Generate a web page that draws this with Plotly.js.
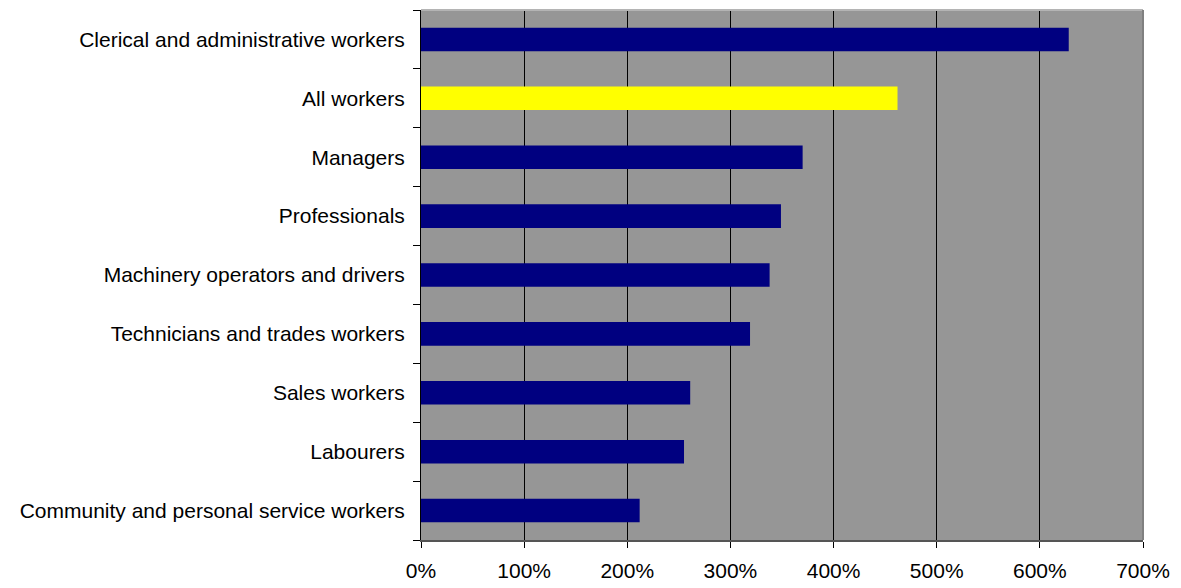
<!DOCTYPE html>
<html>
<head>
<meta charset="utf-8">
<script src="https://cdn.plot.ly/plotly-3.0.1.min.js"></script>
<style>html,body{margin:0;padding:0;background:#fff;}#chart{width:1181px;height:588px;}</style>
</head>
<body>
<div id="chart"></div>
<script>
const categories = [
  "Community and personal service workers",
  "Labourers",
  "Sales workers",
  "Technicians and trades workers",
  "Machinery operators and drivers",
  "Professionals",
  "Managers",
  "All workers",
  "Clerical and administrative workers"
];
const values = [2.12, 2.55, 2.61, 3.19, 3.38, 3.49, 3.70, 4.62, 6.28];
const barColors = categories.map(c => c === "All workers" ? "#FFFF00" : "#000080");
const tickVals = [0, 1, 2, 3, 4, 5, 6, 7];
const tickText = ["0%", "100%", "200%", "300%", "400%", "500%", "600%", "700%"];

const trace = {
  type: "bar",
  orientation: "h",
  y: categories,
  x: values,
  marker: {color: barColors, line: {width: 0}},
  hoverinfo: "none"
};

const layout = {
  width: 1181,
  height: 588,
  margin: {l: 421, r: 38, t: 10, b: 48, pad: 0},
  paper_bgcolor: "#ffffff",
  plot_bgcolor: "#969696",
  bargap: 0.6,
  showlegend: false,
  font: {family: "Liberation Sans, Arial, sans-serif", size: 21, color: "#000"},
  xaxis: {
    range: [0, 7],
    tickvals: tickVals,
    ticktext: tickText,
    showgrid: true,
    gridcolor: "#000000",
    gridwidth: 1,
    zeroline: false,
    showline: true,
    linecolor: "#555555",
    linewidth: 2,
    ticks: "outside",
    ticklen: 6,
    tickcolor: "#000",
    ticklabelstandoff: 5,
    tickfont: {size: 21},
    fixedrange: true
  },
  yaxis: {
    type: "category",
    showgrid: false,
    zeroline: false,
    showline: true,
    linecolor: "#000000",
    linewidth: 1,
    ticks: "outside",
    tickson: "boundaries",
    ticklen: 7,
    tickcolor: "#000",
    ticklabelstandoff: 11,
    tickfont: {size: 21},
    fixedrange: true
  },
  shapes: [
    {type: "line", xref: "paper", yref: "paper", x0: 0, x1: 1, y0: 1, y1: 1, line: {color: "#b4b4b4", width: 2}},
    {type: "line", xref: "paper", yref: "paper", x0: 1, x1: 1, y0: 0, y1: 1, line: {color: "#808080", width: 2}}
  ]
};

Plotly.newPlot("chart", [trace], layout, {displayModeBar: false, staticPlot: true});
</script>
</body>
</html>
